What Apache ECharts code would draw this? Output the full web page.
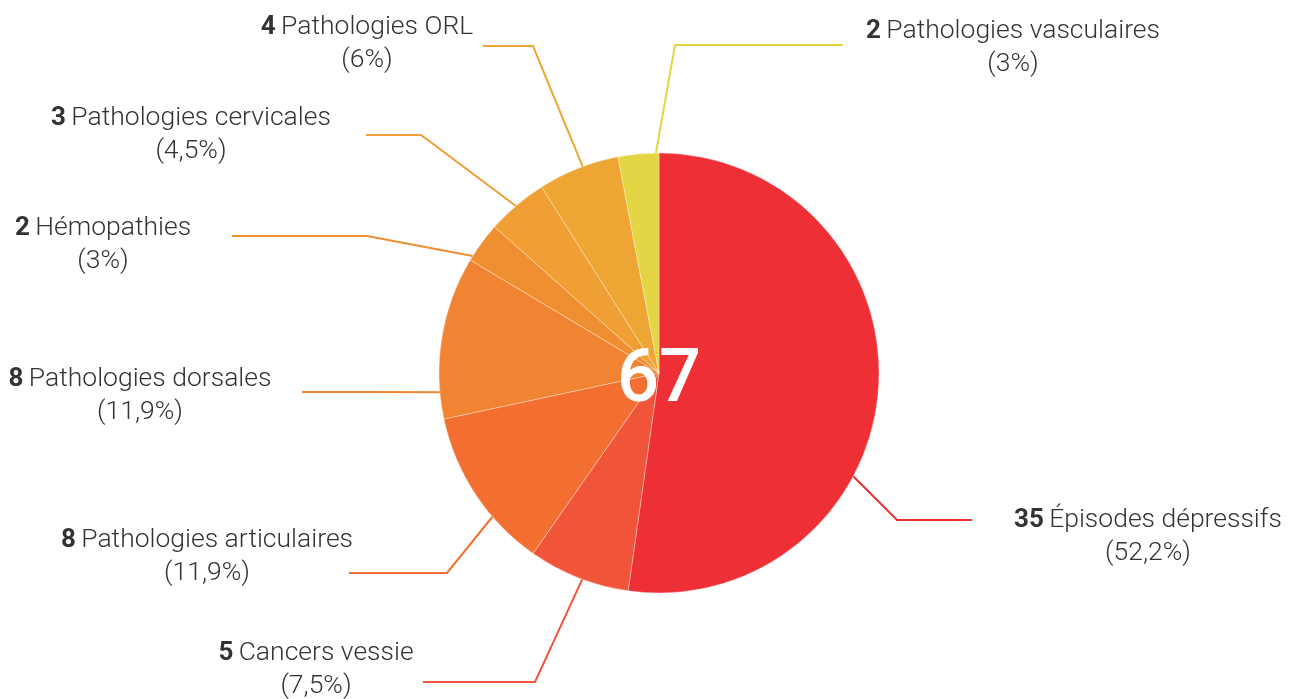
<!DOCTYPE html>
<html><head><meta charset="utf-8">
<script src="https://cdn.jsdelivr.net/npm/echarts@6/dist/echarts.min.js"></script>
<style>html,body{margin:0;padding:0;background:#fff}#c{width:1298px;height:699px}</style>
</head><body><div id="c"></div>
<script>
// Data
const categories = ['Épisodes dépressifs','Cancers vessie','Pathologies articulaires','Pathologies dorsales','Hémopathies','Pathologies cervicales','Pathologies ORL','Pathologies vasculaires'];
const values = [35, 5, 8, 8, 2, 3, 4, 2];
const colors = ['#EE2F36','#F0553A','#F26F31','#F08432','#EF8F32','#F09F34','#EDA634','#E3D543'];

// Layout (label anchor, leader-line elbow/end, edge angle in degrees clockwise from top)
const CX = 659, CY = 373, R = 220;
const layout = [
  {x:1148, y:537, a:118, elbow:[897,520], end:[972,520]},
  {x:316, y:669.5, a:200.4, elbow:[535,682], end:[423,682]},
  {x:207, y:556.5, a:229.2, elbow:[447,573], end:[349,573]},
  {x:140, y:395.5, a:265, elbow:[370,392], end:[302,392]},
  {x:103, y:245, a:302.1, elbow:[367,236], end:[232,236]},
  {x:191, y:135, a:319.4, elbow:[421,135], end:[366,135]},
  {x:367, y:43.5, a:339.7, elbow:[533,46], end:[483,46]},
  {x:1013, y:47.5, a:359.2, elbow:[675,45], end:[843,45]}
];

const total = values.reduce((s,v)=>s+v,0);
function pct(v){
  let s = (Math.round(v/total*1000)/10).toFixed(1);
  if (s.endsWith('.0')) s = s.slice(0,-2);
  return s.replace('.', ',') + '%';
}

const chart = echarts.init(document.getElementById('c'));
chart.setOption({
  animation:false,
  series:[{
    type:'pie',
    center:[CX, CY],
    radius:R,
    startAngle:90,
    clockwise:true,
    avoidLabelOverlap:false,
    itemStyle:{borderColor:'rgba(255,255,255,0.55)', borderWidth:0.6},
    emphasis:{disabled:true},
    data: categories.map((c,i)=>({name:c, value:values[i], itemStyle:{color:colors[i]}, labelLine:{lineStyle:{color:colors[i]}}})),
    label:{
      show:true,
      align:'center',
      verticalAlign:'middle',
      formatter: p => '{b|' + p.value + '} {n|' + p.name + '}\n{n|(' + pct(p.value) + ')}',
      rich:{
        b:{fontFamily:'Roboto', fontWeight:'bold', fontSize:26, color:'#333', lineHeight:33, padding:[0,2,0,0]},
        n:{fontFamily:'Roboto', fontWeight:300, fontSize:26.5, color:'#333', lineHeight:33}
      }
    },
    labelLine:{show:true, length:10, length2:10, lineStyle:{width:2}},
    labelLayout: function(params){
      const L = layout[params.dataIndex];
      const rad = L.a * Math.PI/180;
      const start = [CX + R*Math.sin(rad), CY - R*Math.cos(rad)];
      return {x:L.x, y:L.y, align:'center', verticalAlign:'middle', labelLinePoints:[start, L.elbow, L.end]};
    }
  }],
  graphic:[{
    type:'text', x:CX, y:CY + 9, z:100,
    style:{text:String(total), fill:'#fff', fontFamily:'Roboto', fontSize:74, fontWeight:500, textAlign:'center', textVerticalAlign:'middle'}
  }]
});
</script></body></html>
